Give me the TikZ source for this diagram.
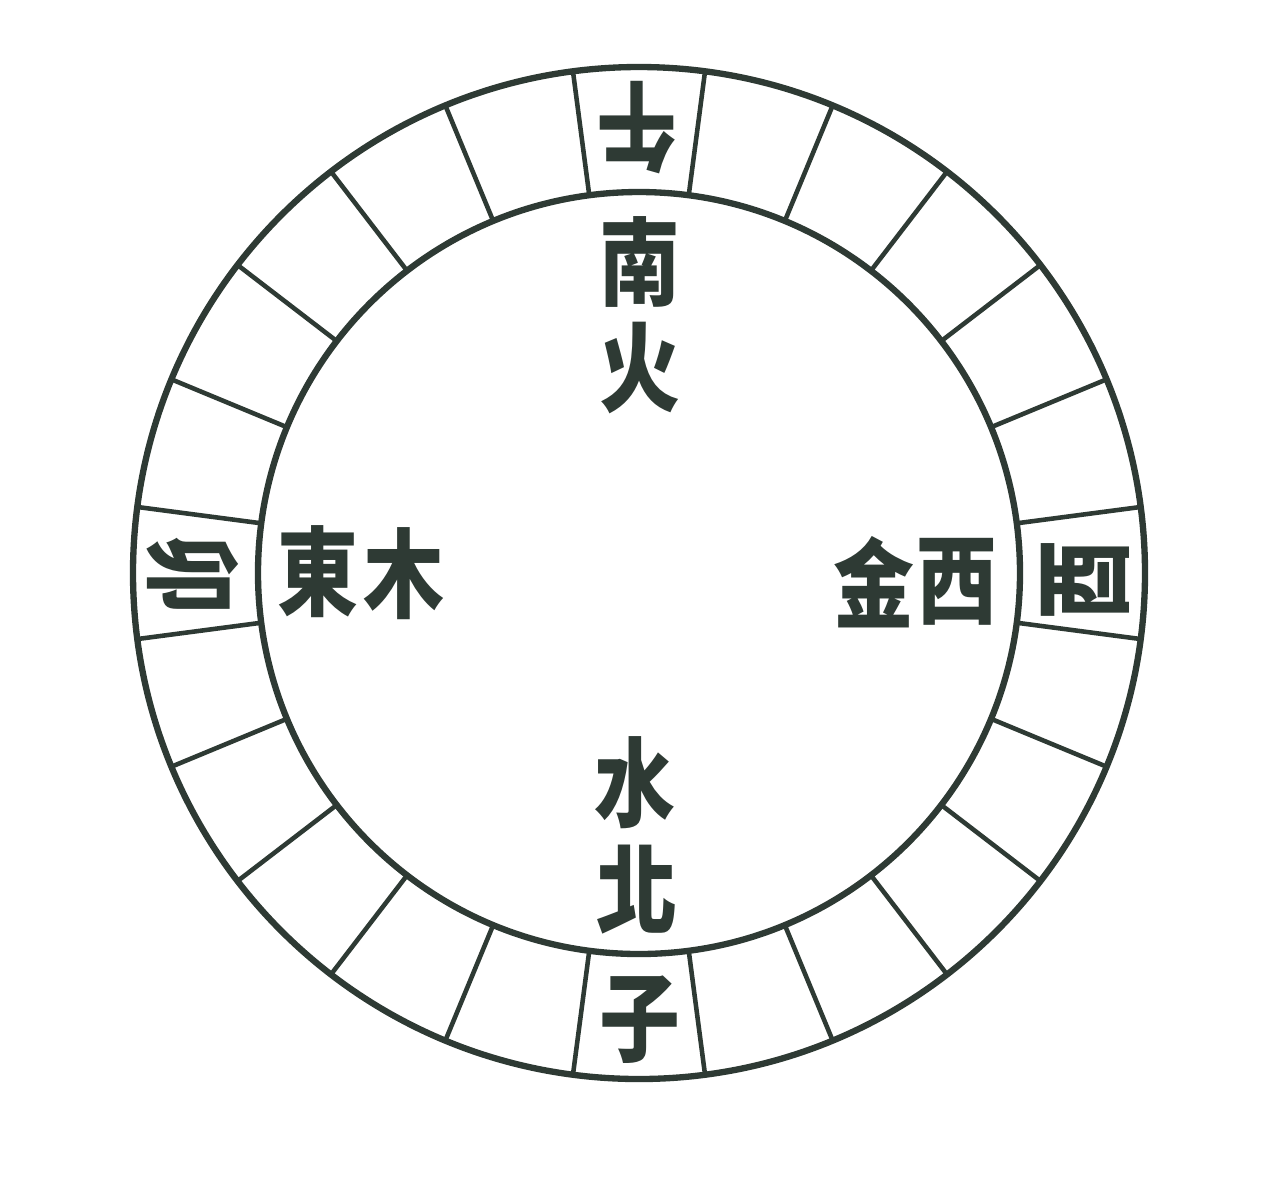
\documentclass[tikz,border=0pt]{standalone}
\usepackage{fontspec}
\newfontfamily\cjk{Noto Sans CJK TC}
\usetikzlibrary{positioning}
\definecolor{ink}{RGB}{46,58,52}

\begin{document}
\begin{tikzpicture}[ink, line width=1.8pt,
		ch/.style={font=\cjk\bfseries\fontsize{23}{23}\selectfont, text=ink, inner sep=0pt, yscale=1.2, transform shape}]
		\useasboundingbox (0,0) rectangle (12.61,-11.85);
		\coordinate (o) at (6.39,-5.73);
		\draw (o) circle (5.06);
		\draw (o) circle (3.81);
		\foreach \a in {7.5,22.5,...,352.5}
			\draw[line width=1.3pt] ([shift={(\a:3.81)}]o) -- ([shift={(\a:5.06)}]o);
		% branches in the ring
		\node (wu) [rotate=180, ch] at (6.37,-1.28) {午};
		\node (zi) [ch] at (6.40,-10.20) {子};
		\node (mao) [rotate=-90, ch] at (1.93,-5.75) {卯};
		\node (you) [rotate=90, ch] at (10.85,-5.80) {酉};
		% directions and elements
		\node (nan) [ch] at (6.40,-2.62) {南};
		\node (huo) [ch] at (6.40,-3.68) {火};
		\node (shui) [ch] at (6.35,-7.83) {水};
		\node (bei) [ch] at (6.37,-8.90) {北};
		\node (dong) [ch] at (3.18,-5.72) {東};
		\node (mu) [ch] at (4.04,-5.74) {木};
		\node (jin) [ch] at (8.74,-5.82) {金};
		\node (xi) [ch] at (9.57,-5.82) {西};
\end{tikzpicture}
\end{document}
